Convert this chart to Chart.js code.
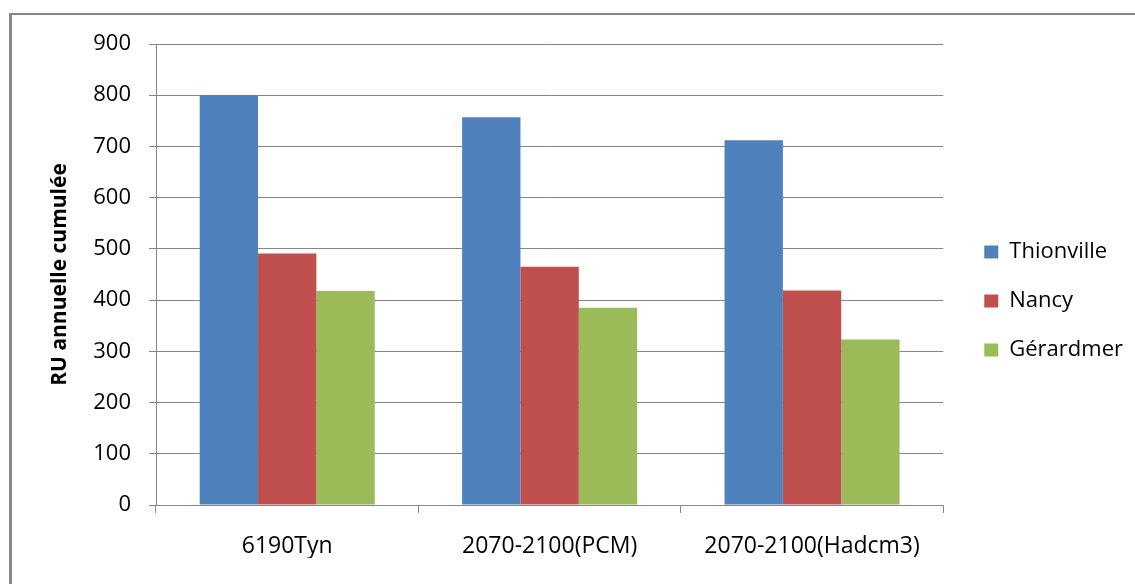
<!DOCTYPE html>
<html>
<head>
<meta charset="utf-8">
<script src="https://cdn.jsdelivr.net/npm/chart.js@4"></script>
<style>
    body { margin: 0; background: #fff; }
    #wrap { width: 1135px; height: 584px; }
</style>
</head>
<body>
<div id="wrap"><canvas id="ruChart" width="1135" height="584"></canvas></div>
<script>
// Données
const categories = ['6190Tyn', '2070-2100(PCM)', '2070-2100(Hadcm3)'];
const thionville = [800, 757, 712];
const nancy = [491, 465, 419];
const gerardmer = [418, 385, 323];
const yTicks = [0, 100, 200, 300, 400, 500, 600, 700, 800, 900];

const grey = '#868686';

Chart.defaults.font.family = "'Open Sans', sans-serif";
Chart.defaults.color = '#000';

// Cadre gris autour du graphique + décalage de la légende
const cadre = {
    id: 'cadre',
    afterLayout: (chart) => {
        chart.legend.left += 14;
        chart.legend.right += 14;
    },
    beforeDraw: (chart) => {
        const c = chart.ctx;
        c.save();
        c.fillStyle = '#fff';
        c.fillRect(0, 0, chart.width, chart.height);
        c.fillStyle = grey;
        c.fillRect(10, 13, chart.width - 10, 2);
        c.fillRect(9, 13, 3, chart.height - 13);
        c.restore();
    }
};

const ctx = document.getElementById('ruChart').getContext('2d');
const ruChart = new Chart(ctx, {
    type: 'bar',
    data: {
        labels: categories,
        datasets: [
            { label: 'Thionville', data: thionville, backgroundColor: '#4F81BD' },
            { label: 'Nancy', data: nancy, backgroundColor: '#C0504D' },
            { label: 'Gérardmer', data: gerardmer, backgroundColor: '#9BBB59' }
        ]
    },
    options: {
        responsive: false,
        animation: false,
        categoryPercentage: 0.667,
        barPercentage: 1.0,
        layout: { padding: { left: 0, top: 44, right: 16, bottom: 26 } },
        plugins: {
            tooltip: { enabled: false },
            legend: {
                position: 'right',
                labels: {
                    boxWidth: 14,
                    boxHeight: 13,
                    padding: 27,
                    font: { size: 22 }
                }
            }
        },
        scales: {
            x: {
                grid: { drawOnChartArea: false, drawTicks: true, tickLength: 8, color: grey },
                border: { color: grey },
                ticks: { padding: 20, font: { size: 23 } },
                afterFit: (scale) => { scale.height = 53; }
            },
            y: {
                min: 0,
                max: 900,
                afterBuildTicks: (scale) => { scale.ticks = yTicks.map(v => ({ value: v })); },
                grid: { color: grey, tickLength: 7 },
                border: { color: grey },
                ticks: { padding: 18, font: { size: 22 } },
                title: {
                    display: true,
                    text: 'RU annuelle cumulée',
                    font: { size: 21, weight: 'bold' },
                    padding: { top: 47, bottom: 0 }
                },
                afterFit: (scale) => { scale.width = 156; }
            }
        }
    },
    plugins: [cadre]
});
</script>
</body>
</html>
